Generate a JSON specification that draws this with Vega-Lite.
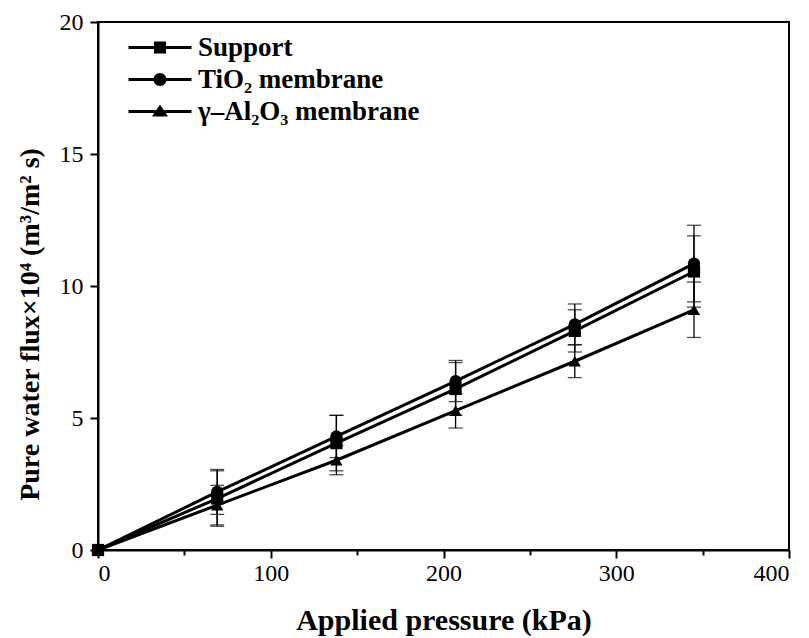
{
  "$schema": "https://vega.github.io/schema/vega-lite/v6.json",
  "width": 691,
  "height": 528,
  "autosize": {"type": "none"},
  "padding": {"left": 98, "top": 22, "right": 20, "bottom": 88},
  "background": "white",
  "config": {
    "font": "Liberation Serif",
    "view": {"stroke": "black", "strokeWidth": 2},
    "axis": {
      "domainColor": "black",
      "domainWidth": 2,
      "tickColor": "black",
      "tickWidth": 2,
      "grid": false,
      "labelFont": "Liberation Serif",
      "labelFontSize": 24,
      "labelColor": "black",
      "titleFont": "Liberation Serif",
      "titleFontSize": 30,
      "titleFontWeight": "bold",
      "titleColor": "black"
    }
  },
  "data": {
    "values": [
      {"series": "Support", "p": 0, "flux": 0},
      {"series": "Support", "p": 69, "flux": 1.95, "lo": 0.9, "hi": 3.0},
      {"series": "Support", "p": 138, "flux": 4.05, "lo": 3.0, "hi": 5.1},
      {"series": "Support", "p": 207, "flux": 6.1, "lo": 5.1, "hi": 7.1},
      {"series": "Support", "p": 276, "flux": 8.3, "lo": 7.5, "hi": 9.1},
      {"series": "Support", "p": 345, "flux": 10.55, "lo": 9.2, "hi": 11.9},
      {"series": "TiO₂ membrane", "p": 0, "flux": 0},
      {"series": "TiO₂ membrane", "p": 69, "flux": 2.2, "lo": 1.35, "hi": 3.05},
      {"series": "TiO₂ membrane", "p": 138, "flux": 4.3, "lo": 3.5, "hi": 5.1},
      {"series": "TiO₂ membrane", "p": 207, "flux": 6.4, "lo": 5.62, "hi": 7.18},
      {"series": "TiO₂ membrane", "p": 276, "flux": 8.55, "lo": 7.78, "hi": 9.32},
      {"series": "TiO₂ membrane", "p": 345, "flux": 10.85, "lo": 9.4, "hi": 12.3},
      {"series": "γ–Al₂O₃ membrane", "p": 0, "flux": 0},
      {"series": "γ–Al₂O₃ membrane", "p": 69, "flux": 1.7, "lo": 0.95, "hi": 2.45},
      {"series": "γ–Al₂O₃ membrane", "p": 138, "flux": 3.4, "lo": 2.85, "hi": 3.95},
      {"series": "γ–Al₂O₃ membrane", "p": 207, "flux": 5.28, "lo": 4.62, "hi": 5.92},
      {"series": "γ–Al₂O₃ membrane", "p": 276, "flux": 7.15, "lo": 6.53, "hi": 7.77},
      {"series": "γ–Al₂O₃ membrane", "p": 345, "flux": 9.1, "lo": 8.05, "hi": 10.15}
    ]
  },
  "encoding": {
    "x": {
      "field": "p",
      "type": "quantitative",
      "scale": {"domain": [0, 400], "nice": false},
      "axis": {
        "title": "Applied pressure (kPa)",
        "values": [0, 50, 100, 150, 200, 250, 300, 350, 400],
        "labelExpr": "datum.value % 100 === 0 ? datum.label : ''",
        "tickSize": {"condition": {"test": "datum.value % 100 === 0", "value": 8}, "value": 5},
        "labelPadding": 3,
        "titlePadding": 20
      }
    }
  },
  "resolve": {"scale": {"shape": "independent"}, "legend": {"shape": "independent"}},
  "layer": [
    {
      "transform": [{"filter": "isValid(datum.lo)"}],
      "mark": {"type": "rule", "color": "black", "strokeWidth": 1.3},
      "encoding": {
        "y": {"field": "lo", "type": "quantitative", "scale": {"domain": [0, 20], "nice": false}, "axis": {"title": "Pure water flux×10⁴ (m³/m² s)", "titleFontSize": 28, "titleY": 302, "values": [0, 5, 10, 15, 20], "tickSize": 8, "labelPadding": 7, "titlePadding": 15}},
        "y2": {"field": "hi"}
      }
    },
    {
      "transform": [{"filter": "isValid(datum.lo)"}],
      "mark": {"type": "tick", "orient": "horizontal", "color": "black", "size": 14, "thickness": 1.3},
      "encoding": {
        "y": {"field": "lo", "type": "quantitative", "scale": {"domain": [0, 20], "nice": false}, "axis": {"title": "Pure water flux×10⁴ (m³/m² s)", "titleFontSize": 28, "titleY": 302, "values": [0, 5, 10, 15, 20], "tickSize": 8, "labelPadding": 7, "titlePadding": 15}}
      }
    },
    {
      "transform": [{"filter": "isValid(datum.hi)"}],
      "mark": {"type": "tick", "orient": "horizontal", "color": "black", "size": 14, "thickness": 1.3},
      "encoding": {
        "y": {"field": "hi", "type": "quantitative", "scale": {"domain": [0, 20], "nice": false}, "axis": {"title": "Pure water flux×10⁴ (m³/m² s)", "titleFontSize": 28, "titleY": 302, "values": [0, 5, 10, 15, 20], "tickSize": 8, "labelPadding": 7, "titlePadding": 15}}
      }
    },
    {
      "mark": {"type": "line", "color": "black", "strokeWidth": 3},
      "encoding": {
        "y": {"field": "flux", "type": "quantitative", "scale": {"domain": [0, 20], "nice": false}, "axis": {"title": "Pure water flux×10⁴ (m³/m² s)", "titleFontSize": 28, "titleY": 302, "values": [0, 5, 10, 15, 20], "tickSize": 8, "labelPadding": 7, "titlePadding": 15}},
        "detail": {"field": "series"}
      }
    },
    {
      "mark": {"type": "point", "filled": true, "color": "black", "opacity": 1, "size": 150},
      "encoding": {
        "y": {"field": "flux", "type": "quantitative", "scale": {"domain": [0, 20], "nice": false}, "axis": {"title": "Pure water flux×10⁴ (m³/m² s)", "titleFontSize": 28, "titleY": 302, "values": [0, 5, 10, 15, 20], "tickSize": 8, "labelPadding": 7, "titlePadding": 15}},
        "shape": {
          "field": "series",
          "type": "nominal",
          "scale": {
            "domain": ["Support", "TiO₂ membrane", "γ–Al₂O₃ membrane"],
            "range": ["square", "circle", "triangle-up"]
          },
          "legend": null
        }
      }
    },
    {
      "transform": [{"filter": "datum.p < 0"}],
      "mark": {"type": "point", "filled": true, "color": "black", "opacity": 1, "size": 400},
      "encoding": {
        "y": {"field": "flux", "type": "quantitative", "scale": {"domain": [0, 20], "nice": false}, "axis": {"title": "Pure water flux×10⁴ (m³/m² s)", "titleFontSize": 28, "titleY": 302, "values": [0, 5, 10, 15, 20], "tickSize": 8, "labelPadding": 7, "titlePadding": 15}},
        "shape": {
          "field": "series",
          "type": "nominal",
          "scale": {
            "domain": ["Support", "TiO₂ membrane", "γ–Al₂O₃ membrane"],
            "range": [
              "M-1,-0.15L5.3,-0.15L5.3,0.15L-1,0.15ZM1.55,-0.6L2.75,-0.6L2.75,0.6L1.55,0.6Z",
              "M-1,-0.15L5.3,-0.15L5.3,0.15L-1,0.15ZM2.8,0A0.65,0.65,0,1,1,1.5,0A0.65,0.65,0,1,1,2.8,0Z",
              "M-1,-0.15L5.3,-0.15L5.3,0.15L-1,0.15ZM2.15,-0.7L2.95,0.5L1.35,0.5Z"
            ]
          },
          "legend": {
            "title": null,
            "orient": "none",
            "legendX": 27,
            "legendY": 12,
            "padding": 0,
            "symbolSize": 400,
            "symbolFillColor": "black",
            "symbolOpacity": 1,
            "labelFont": "Liberation Serif",
            "labelFontSize": 27,
            "labelFontWeight": "bold",
            "labelColor": "black",
            "labelLimit": 400,
            "labelOffset": 46,
            "rowPadding": 4
          }
        }
      }
    }
  ]
}
